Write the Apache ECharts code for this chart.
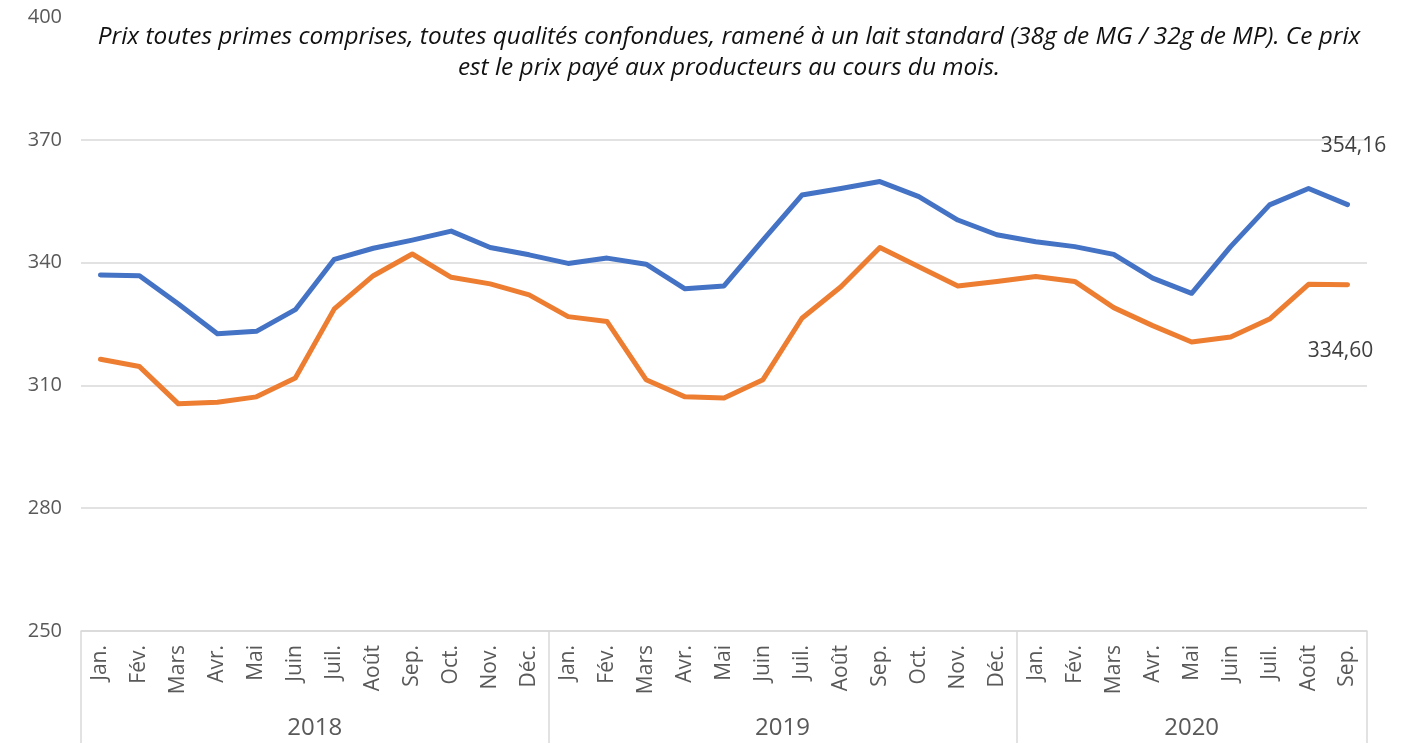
<!DOCTYPE html>
<html>
<head>
<meta charset="utf-8">
<script src="https://cdn.jsdelivr.net/npm/echarts@6/dist/echarts.min.js"></script>
<style>
  html, body { margin: 0; padding: 0; background: #fff; }
  #main { width: 1417px; height: 743px; }
</style>
</head>
<body>
<div id="main"></div>
<script>
// mois (3 années, jusqu'à sept. 2020)
var mois = ['Jan.', 'Fév.', 'Mars', 'Avr.', 'Mai', 'Juin', 'Juil.', 'Août', 'Sep.', 'Oct.', 'Nov.', 'Déc.'];
var annees = ['2018', '2019', '2020'];
var moisParAnnee = [12, 12, 9];

var serieBleue = [
  337.0, 336.8, 329.9, 322.6, 323.2, 328.5, 340.8, 343.5, 345.5, 347.7, 343.7, 341.9,
  339.8, 341.1, 339.6, 333.6, 334.3, 345.5, 356.5, 358.1, 359.8, 356.1, 350.4, 346.8,
  345.1, 343.9, 342.0, 336.2, 332.5, 343.9, 354.1, 358.1, 354.16
];
var serieOrange = [
  316.4, 314.6, 305.5, 305.9, 307.2, 311.8, 328.7, 336.8, 342.1, 336.4, 334.8, 332.1,
  326.8, 325.6, 311.4, 307.2, 306.9, 311.4, 326.4, 334.1, 343.7, 339.0, 334.3, 335.4,
  336.6, 335.4, 329.0, 324.6, 320.6, 321.8, 326.2, 334.7, 334.60
];
var yTicks = [250, 280, 310, 340, 370, 400];

var categories = [];
var separateurs = [0];
var centresAnnees = [];
var cumul = 0;
for (var a = 0; a < annees.length; a++) {
  for (var m = 0; m < moisParAnnee[a]; m++) {
    categories.push(mois[m]);
  }
  centresAnnees.push(cumul + moisParAnnee[a] / 2);
  cumul += moisParAnnee[a];
  separateurs.push(cumul);
}

function fmt(v) {
  return v.toFixed(2).replace('.', ',');
}

// seul le dernier point porte une étiquette
function avecEtiquette(values, lbl) {
  return values.map(function (v, i) {
    if (i === values.length - 1) {
      return { value: v, label: lbl };
    }
    return v;
  });
}

var myChart = echarts.init(document.getElementById('main'));
var font = '"Open Sans", "Noto Sans", sans-serif';

var option = {
  backgroundColor: '#ffffff',
  animation: false,
  title: {
    text: 'Prix toutes primes comprises, toutes qualités confondues, ramené à un lait standard (38g de MG / 32g de MP). Ce prix\nest le prix payé aux producteurs au cours du mois.',
    left: 724,
    top: 17,
    textAlign: 'center',
    textStyle: {
      fontFamily: font,
      fontStyle: 'italic',
      fontWeight: 'normal',
      fontSize: 24.4,
      lineHeight: 31,
      color: '#111111'
    }
  },
  grid: {
    left: 81,
    right: 50,
    top: 17,
    bottom: 112
  },
  xAxis: [{
    type: 'category',
    data: categories,
    boundaryGap: true,
    axisLine: { lineStyle: { color: '#d9d9d9', width: 1.5 } },
    axisTick: { show: false },
    axisLabel: {
      rotate: 90,
      interval: 0,
      margin: 14,
      fontFamily: font,
      fontSize: 21,
      color: '#595959'
    }
  }, {
    type: 'value',
    position: 'bottom',
    min: 0,
    max: cumul,
    axisLine: { show: false },
    splitLine: { show: false },
    axisTick: {
      show: true,
      customValues: separateurs,
      length: 115,
      lineStyle: { color: '#d9d9d9', width: 1.5 }
    },
    axisLabel: {
      customValues: centresAnnees,
      margin: 85,
      fontFamily: font,
      fontSize: 24,
      color: '#595959',
      formatter: function (v) {
        return annees[centresAnnees.indexOf(v)];
      }
    }
  }],
  yAxis: {
    type: 'value',
    min: yTicks[0],
    max: yTicks[yTicks.length - 1],
    interval: 30,
    axisLine: { show: false },
    axisTick: { show: false },
    axisLabel: {
      margin: 19,
      fontFamily: font,
      fontSize: 20,
      color: '#595959'
    },
    splitLine: {
      lineStyle: {
        color: ['#d9d9d9', '#d9d9d9', '#d9d9d9', '#d9d9d9', '#d9d9d9', 'rgba(0,0,0,0)'],
        width: 1.5
      }
    }
  },
  series: [{
    name: 'Série 1',
    type: 'line',
    xAxisIndex: 0,
    showSymbol: true,
    symbol: 'circle',
    symbolSize: 0,
    lineStyle: { color: '#4472C4', width: 5, cap: 'round', join: 'round' },
    itemStyle: { color: '#4472C4' },
    data: avecEtiquette(serieBleue, {
      show: true,
      position: 'top',
      distance: 48,
      offset: [6, 0],
      formatter: function (p) { return fmt(p.value); },
      fontFamily: font,
      fontSize: 21,
      color: '#404040'
    })
  }, {
    name: 'Série 2',
    type: 'line',
    xAxisIndex: 0,
    showSymbol: true,
    symbol: 'circle',
    symbolSize: 0,
    lineStyle: { color: '#ED7D31', width: 5, cap: 'round', join: 'round' },
    itemStyle: { color: '#ED7D31' },
    data: avecEtiquette(serieOrange, {
      show: true,
      position: 'bottom',
      distance: 56,
      offset: [-7, 0],
      formatter: function (p) { return fmt(p.value); },
      fontFamily: font,
      fontSize: 21,
      color: '#404040'
    })
  }]
};

myChart.setOption(option);
</script>
</body>
</html>
